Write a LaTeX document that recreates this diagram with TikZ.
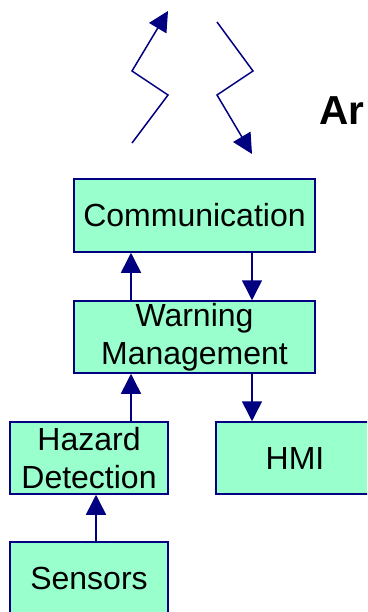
\documentclass[tikz,border=0pt]{standalone}
\usepackage{fontspec}
\setmainfont{Liberation Sans}
\usetikzlibrary{arrows.meta}
\definecolor{mint}{RGB}{153,255,204}
\definecolor{navyline}{RGB}{0,0,128}
\tikzset{
  blockbox/.style={draw=navyline, fill=mint, line width=1.5pt, inner sep=0pt,
    minimum height=72pt, align=center, font=\fontsize{32}{38}\selectfont},
  flow/.style={draw=navyline, line width=1.5pt, -{Triangle[length=20pt,width=20pt]}}
}
\begin{document}
\begin{tikzpicture}[x=1pt, y=-1pt]
            \useasboundingbox (0,0) rectangle (367,612);
            \clip (0,0) rectangle (367,612);

            \coordinate (L1) at (132,143);
            \coordinate (L2) at (168,95);
            \coordinate (L3) at (132,71);
            \coordinate (L4) at (168,11);
            \coordinate (R1) at (217,22);
            \coordinate (R2) at (253,71);
            \coordinate (R3) at (217,95);
            \coordinate (R4) at (252,154);

            \draw[flow] (L1) -- (L2) -- (L3) -- (L4);
            \draw[flow] (R1) -- (R2) -- (R3) -- (R4);

            \node[anchor=base west, inner sep=0pt, font=\fontsize{40.5}{40.5}\selectfont\bfseries] (title) at (319,125) {Ar};

            \node[blockbox, minimum width=241pt, minimum height=73pt] (comm) at (194.5,215.5) {Communication};
            \node[blockbox, minimum width=241pt] (warn) at (194.5,337) {Warning\\Management};
            \node[blockbox, minimum width=158pt] (hazard) at (89,458) {Hazard\\Detection};
            \node[blockbox, minimum width=158pt] (hmi) at (295,458) {HMI};
            \node[blockbox, minimum width=158pt] (sensors) at (89,578) {Sensors};

            \draw[flow] ([xshift=-63.5pt]warn.north) -- ([xshift=-63.5pt]comm.south);
            \draw[flow] ([xshift=57.5pt]comm.south) -- ([xshift=57.5pt]warn.north);
            \draw[flow] ([xshift=42pt]hazard.north) -- ([xshift=-63.5pt]warn.south);
            \draw[flow] ([xshift=57.5pt]warn.south) -- ([xshift=-43pt]hmi.north);
            \draw[flow] ([xshift=7pt]sensors.north) -- ([xshift=7pt]hazard.south);
        \end{tikzpicture}
\end{document}
